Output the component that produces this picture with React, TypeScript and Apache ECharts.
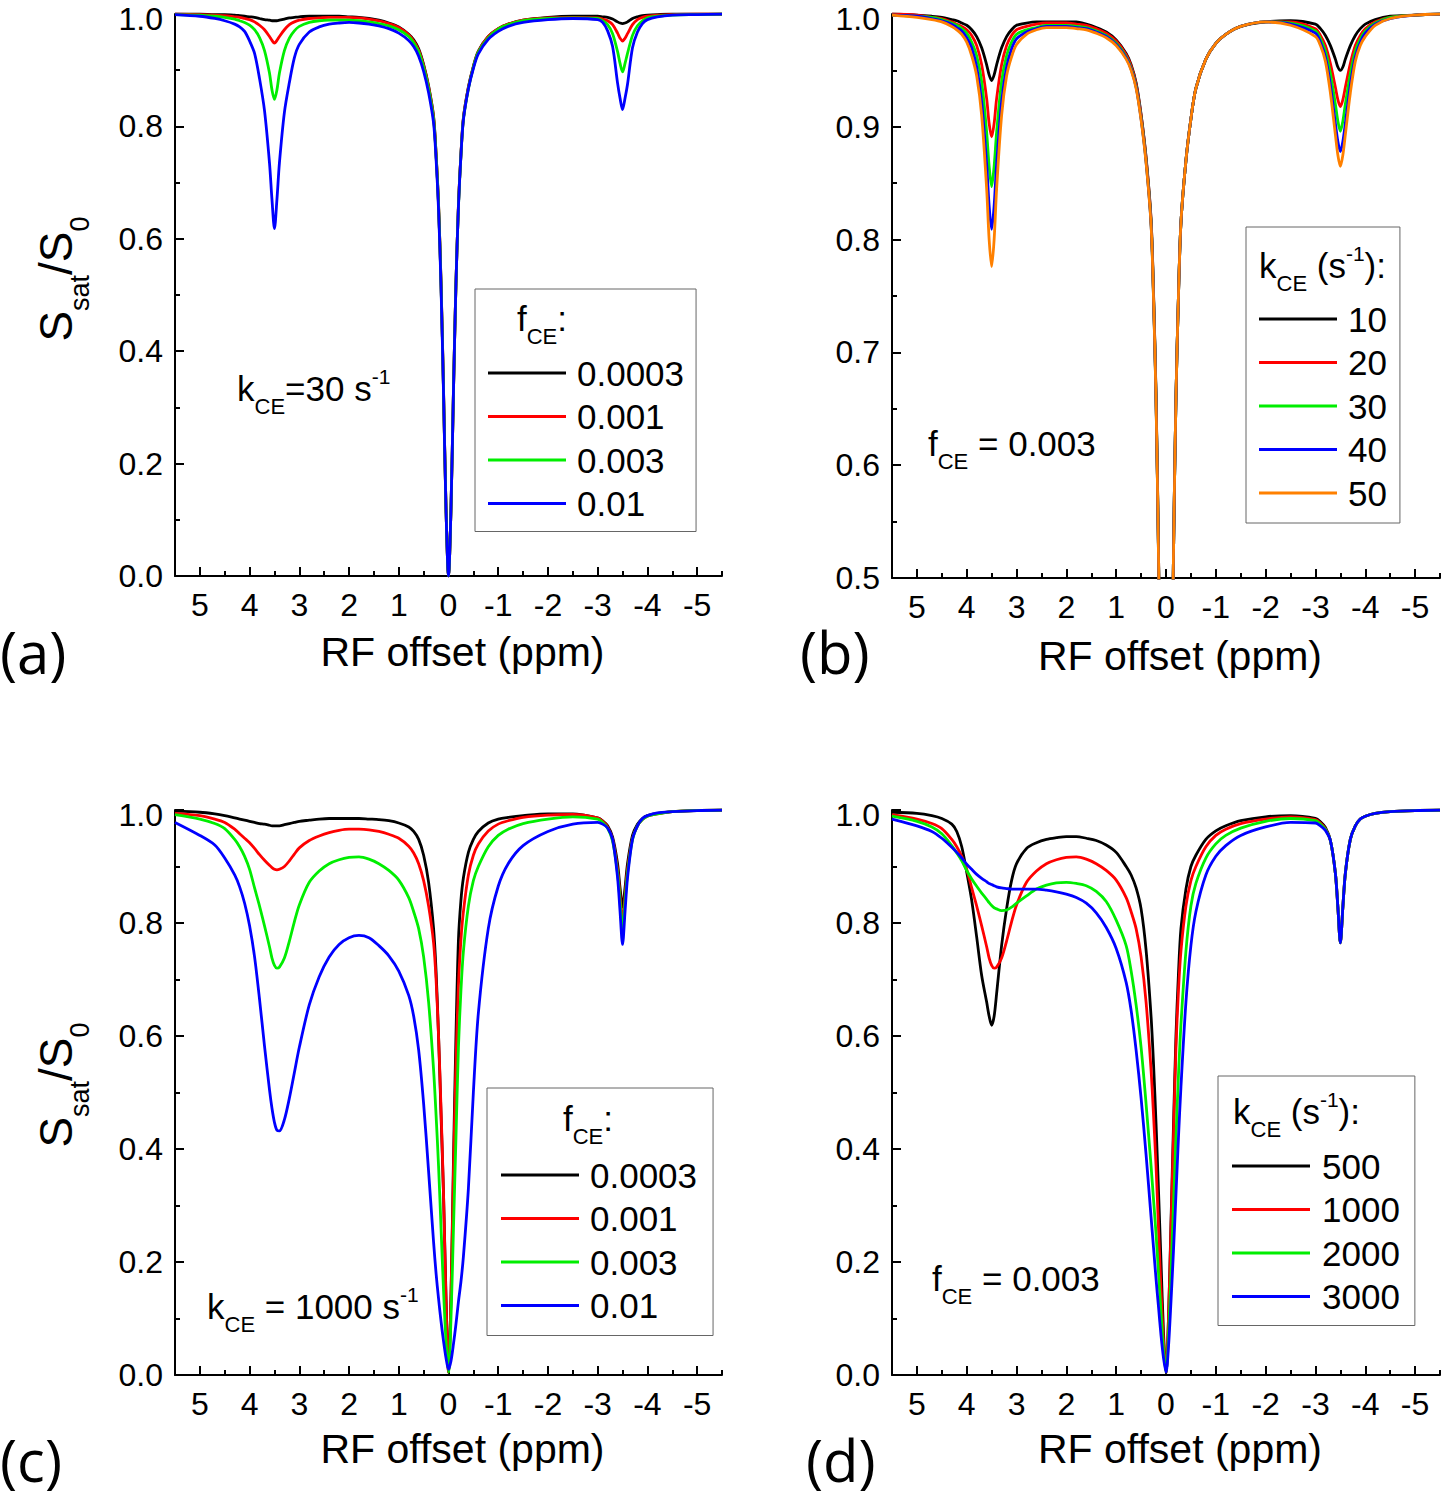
import React, { useEffect, useRef } from "react";
import * as echarts from "echarts";

// RF offset grid (ppm), shared by every curve
const X = [
  5.5, 5.0, 4.7, 4.5, 4.3, 4.2, 4.1, 4.0, 3.9, 3.8,
  3.7, 3.6, 3.55, 3.5, 3.45, 3.4, 3.3, 3.2, 3.1, 3.0,
  2.8, 2.6, 2.4, 2.2, 2.0, 1.8, 1.6, 1.4, 1.2, 1.0,
  0.8, 0.7, 0.6, 0.5, 0.4, 0.3, 0.25, 0.2, 0.15, 0.1,
  0.05, 0, -0.05, -0.1, -0.15, -0.2, -0.25, -0.3, -0.4, -0.5,
  -0.6, -0.8, -1.0, -1.2, -1.5, -2.0, -2.5, -3.0, -3.1, -3.2,
  -3.3, -3.4, -3.45, -3.5, -3.55, -3.6, -3.7, -3.8, -3.9, -4.0,
  -4.2, -4.5, -5.0, -5.5,
];

// (a) kCE = 30 s^-1, varying fCE
const A_F0003 = [
  1.0, 1.0, 0.999, 0.999, 0.998, 0.997, 0.996, 0.995, 0.994, 0.992,
  0.990, 0.989, 0.988, 0.988, 0.988, 0.989, 0.991, 0.993, 0.994, 0.995,
  0.996, 0.996, 0.996, 0.996, 0.995, 0.994, 0.992, 0.989, 0.984, 0.977,
  0.964, 0.954, 0.938, 0.910, 0.872, 0.818, 0.752, 0.662, 0.522, 0.332,
  0.12, 0.0, 0.12, 0.33, 0.52, 0.66, 0.75, 0.815, 0.87, 0.907,
  0.934, 0.96, 0.974, 0.982, 0.989, 0.994, 0.996, 0.996, 0.995, 0.994,
  0.991, 0.986, 0.984, 0.983, 0.984, 0.986, 0.992, 0.995, 0.997, 0.998,
  0.999, 1.0, 1.0, 1.0,
];
const A_F001 = [
  1.0, 0.999, 0.998, 0.997, 0.995, 0.994, 0.992, 0.990, 0.986, 0.980,
  0.972, 0.960, 0.953, 0.948, 0.953, 0.960, 0.972, 0.981, 0.986, 0.989,
  0.992, 0.993, 0.994, 0.994, 0.994, 0.993, 0.991, 0.988, 0.983, 0.976,
  0.963, 0.952, 0.936, 0.908, 0.870, 0.816, 0.750, 0.660, 0.520, 0.330,
  0.12, 0.0, 0.12, 0.33, 0.52, 0.66, 0.75, 0.815, 0.869, 0.906,
  0.933, 0.96, 0.974, 0.982, 0.989, 0.993, 0.994, 0.993, 0.991, 0.988,
  0.981, 0.966, 0.957, 0.952, 0.957, 0.965, 0.981, 0.990, 0.994, 0.996,
  0.998, 0.999, 1.0, 1.0,
];
const A_F003 = [
  0.999, 0.998, 0.996, 0.994, 0.991, 0.988, 0.985, 0.980, 0.972, 0.958,
  0.935, 0.895, 0.865, 0.848, 0.865, 0.895, 0.935, 0.957, 0.970, 0.978,
  0.985, 0.988, 0.989, 0.989, 0.989, 0.988, 0.986, 0.983, 0.979, 0.972,
  0.960, 0.949, 0.933, 0.905, 0.867, 0.813, 0.748, 0.658, 0.518, 0.328,
  0.12, 0.0, 0.12, 0.33, 0.52, 0.658, 0.748, 0.813, 0.867, 0.905,
  0.932, 0.958, 0.973, 0.981, 0.988, 0.992, 0.993, 0.992, 0.988, 0.981,
  0.965, 0.933, 0.912, 0.897, 0.912, 0.930, 0.962, 0.979, 0.988, 0.993,
  0.996, 0.998, 0.999, 1.0,
];
const A_F01 = [
  0.999, 0.996, 0.992, 0.988, 0.982, 0.977, 0.969, 0.952, 0.930, 0.885,
  0.828, 0.735, 0.670, 0.618, 0.670, 0.735, 0.825, 0.878, 0.922, 0.946,
  0.968, 0.977, 0.982, 0.984, 0.985, 0.984, 0.982, 0.979, 0.974, 0.966,
  0.953, 0.942, 0.925, 0.898, 0.860, 0.806, 0.742, 0.652, 0.513, 0.325,
  0.118, 0.0, 0.12, 0.33, 0.52, 0.658, 0.748, 0.812, 0.867, 0.903,
  0.929, 0.955, 0.969, 0.978, 0.985, 0.990, 0.992, 0.990, 0.985, 0.970,
  0.942, 0.877, 0.850, 0.830, 0.850, 0.875, 0.940, 0.968, 0.983, 0.990,
  0.995, 0.998, 0.999, 1.0,
];

// (b) fCE = 0.003, varying kCE
const B_K10 = [
  1.0, 0.999, 0.998, 0.997, 0.995, 0.994, 0.992, 0.990, 0.986, 0.980,
  0.970, 0.955, 0.946, 0.941, 0.946, 0.955, 0.970, 0.980, 0.986, 0.990,
  0.992, 0.993, 0.993, 0.993, 0.993, 0.993, 0.991, 0.988, 0.984, 0.977,
  0.965, 0.955, 0.939, 0.911, 0.873, 0.818, 0.752, 0.662, 0.522, 0.332,
  0.12, 0.0, 0.12, 0.33, 0.52, 0.66, 0.75, 0.815, 0.87, 0.907,
  0.934, 0.96, 0.974, 0.982, 0.989, 0.993, 0.994, 0.991, 0.987, 0.981,
  0.972, 0.960, 0.953, 0.950, 0.953, 0.960, 0.972, 0.981, 0.987, 0.991,
  0.995, 0.998, 0.999, 1.0,
];
const B_K20 = [
  1.0, 0.999, 0.997, 0.996, 0.993, 0.991, 0.989, 0.986, 0.981, 0.972,
  0.955, 0.925, 0.903, 0.891, 0.903, 0.925, 0.955, 0.972, 0.981, 0.986,
  0.989, 0.991, 0.992, 0.992, 0.992, 0.991, 0.990, 0.987, 0.983, 0.976,
  0.964, 0.954, 0.938, 0.910, 0.872, 0.817, 0.751, 0.661, 0.521, 0.331,
  0.12, 0.0, 0.12, 0.33, 0.52, 0.66, 0.75, 0.815, 0.87, 0.907,
  0.934, 0.96, 0.974, 0.982, 0.989, 0.993, 0.993, 0.987, 0.981, 0.972,
  0.956, 0.935, 0.924, 0.918, 0.924, 0.935, 0.956, 0.972, 0.981, 0.987,
  0.993, 0.997, 0.999, 1.0,
];
const B_K30 = [
  0.999, 0.998, 0.997, 0.995, 0.992, 0.990, 0.987, 0.983, 0.975, 0.963,
  0.940, 0.895, 0.865, 0.847, 0.865, 0.895, 0.940, 0.963, 0.975, 0.982,
  0.986, 0.988, 0.990, 0.990, 0.990, 0.989, 0.988, 0.985, 0.981, 0.974,
  0.962, 0.952, 0.936, 0.908, 0.870, 0.815, 0.749, 0.659, 0.519, 0.329,
  0.12, 0.0, 0.12, 0.33, 0.52, 0.66, 0.75, 0.815, 0.87, 0.907,
  0.934, 0.96, 0.974, 0.982, 0.989, 0.993, 0.992, 0.985, 0.978, 0.967,
  0.947, 0.920, 0.905, 0.896, 0.905, 0.920, 0.947, 0.967, 0.978, 0.985,
  0.992, 0.997, 0.999, 1.0,
];
const B_K40 = [
  0.999, 0.998, 0.996, 0.994, 0.991, 0.988, 0.985, 0.979, 0.970, 0.953,
  0.922, 0.867, 0.830, 0.809, 0.830, 0.867, 0.922, 0.953, 0.969, 0.978,
  0.984, 0.987, 0.989, 0.989, 0.989, 0.988, 0.987, 0.984, 0.980, 0.973,
  0.961, 0.951, 0.935, 0.907, 0.869, 0.814, 0.748, 0.658, 0.518, 0.328,
  0.12, 0.0, 0.12, 0.33, 0.52, 0.66, 0.75, 0.815, 0.87, 0.907,
  0.934, 0.96, 0.974, 0.982, 0.989, 0.993, 0.991, 0.983, 0.975, 0.962,
  0.937, 0.903, 0.887, 0.878, 0.887, 0.903, 0.937, 0.962, 0.975, 0.983,
  0.991, 0.996, 0.999, 1.0,
];
const B_K50 = [
  0.999, 0.997, 0.995, 0.993, 0.989, 0.986, 0.982, 0.975, 0.963, 0.945,
  0.910, 0.845, 0.800, 0.776, 0.800, 0.845, 0.910, 0.945, 0.962, 0.973,
  0.982, 0.986, 0.988, 0.988, 0.988, 0.987, 0.986, 0.983, 0.979, 0.972,
  0.960, 0.950, 0.934, 0.906, 0.868, 0.813, 0.747, 0.657, 0.517, 0.327,
  0.12, 0.0, 0.12, 0.33, 0.52, 0.66, 0.75, 0.815, 0.87, 0.907,
  0.934, 0.96, 0.974, 0.982, 0.989, 0.993, 0.990, 0.980, 0.972, 0.958,
  0.930, 0.893, 0.875, 0.865, 0.875, 0.893, 0.930, 0.958, 0.972, 0.980,
  0.990, 0.996, 0.999, 1.0,
];

// (c) kCE = 1000 s^-1, varying fCE
const C_F0003 = [
  0.998, 0.996, 0.993, 0.990, 0.986, 0.984, 0.982, 0.980, 0.978, 0.976,
  0.975, 0.973, 0.972, 0.972, 0.972, 0.972, 0.974, 0.976, 0.978, 0.980,
  0.982, 0.984, 0.985, 0.985, 0.985, 0.985, 0.984, 0.983, 0.981, 0.977,
  0.970, 0.962, 0.948, 0.920, 0.872, 0.790, 0.715, 0.600, 0.460, 0.320,
  0.14, 0.005, 0.14, 0.38, 0.60, 0.77, 0.84, 0.88, 0.925, 0.948,
  0.962, 0.977, 0.984, 0.987, 0.990, 0.993, 0.993, 0.986, 0.981, 0.972,
  0.952, 0.905, 0.862, 0.828, 0.862, 0.905, 0.955, 0.975, 0.985, 0.990,
  0.994, 0.997, 0.999, 1.0,
];
const C_F001 = [
  0.994, 0.990, 0.984, 0.978, 0.966, 0.958, 0.950, 0.942, 0.932, 0.921,
  0.911, 0.902, 0.898, 0.895, 0.894, 0.895, 0.900, 0.910, 0.922, 0.933,
  0.946, 0.954, 0.960, 0.964, 0.966, 0.966, 0.965, 0.962, 0.957, 0.950,
  0.936, 0.924, 0.905, 0.875, 0.830, 0.765, 0.700, 0.600, 0.470, 0.320,
  0.13, 0.005, 0.14, 0.36, 0.55, 0.69, 0.77, 0.82, 0.885, 0.92,
  0.940, 0.963, 0.975, 0.981, 0.987, 0.991, 0.992, 0.986, 0.980, 0.970,
  0.948, 0.895, 0.848, 0.800, 0.848, 0.895, 0.950, 0.972, 0.983, 0.989,
  0.993, 0.997, 0.999, 1.0,
];
const C_F003 = [
  0.992, 0.984, 0.976, 0.967, 0.948, 0.935, 0.918, 0.895, 0.862, 0.830,
  0.795, 0.758, 0.738, 0.725, 0.720, 0.722, 0.738, 0.768, 0.802, 0.832,
  0.872, 0.892, 0.905, 0.912, 0.916, 0.917, 0.913, 0.905, 0.893, 0.876,
  0.845, 0.820, 0.790, 0.740, 0.660, 0.540, 0.460, 0.370, 0.260, 0.150,
  0.060, 0.005, 0.10, 0.26, 0.42, 0.58, 0.68, 0.75, 0.83, 0.875,
  0.900, 0.935, 0.955, 0.966, 0.976, 0.984, 0.988, 0.984, 0.978, 0.968,
  0.945, 0.888, 0.838, 0.785, 0.838, 0.888, 0.948, 0.972, 0.983, 0.989,
  0.993, 0.997, 0.999, 1.0,
];
const C_F01 = [
  0.978, 0.955, 0.938, 0.915, 0.885, 0.864, 0.835, 0.795, 0.740, 0.665,
  0.582, 0.505, 0.472, 0.447, 0.433, 0.432, 0.452, 0.490, 0.535, 0.580,
  0.655, 0.705, 0.740, 0.762, 0.774, 0.778, 0.774, 0.760, 0.742, 0.715,
  0.672, 0.635, 0.575, 0.480, 0.360, 0.235, 0.180, 0.135, 0.095, 0.060,
  0.030, 0.010, 0.025, 0.055, 0.090, 0.130, 0.165, 0.210, 0.330, 0.500,
  0.640, 0.790, 0.865, 0.905, 0.937, 0.962, 0.975, 0.978, 0.975, 0.968,
  0.948, 0.880, 0.820, 0.762, 0.820, 0.880, 0.948, 0.972, 0.985, 0.990,
  0.995, 0.997, 0.999, 1.0,
];

// (d) fCE = 0.003, varying kCE
const D_K500 = [
  0.996, 0.994, 0.990, 0.985, 0.975, 0.962, 0.935, 0.890, 0.840, 0.775,
  0.707, 0.660, 0.635, 0.619, 0.635, 0.675, 0.760, 0.825, 0.875, 0.905,
  0.932, 0.942, 0.948, 0.951, 0.953, 0.953, 0.950, 0.946, 0.938, 0.925,
  0.900, 0.885, 0.862, 0.825, 0.752, 0.635, 0.550, 0.445, 0.325, 0.200,
  0.075, 0.003, 0.100, 0.270, 0.440, 0.600, 0.710, 0.790, 0.860, 0.900,
  0.920, 0.948, 0.963, 0.972, 0.981, 0.988, 0.990, 0.985, 0.979, 0.969,
  0.946, 0.888, 0.828, 0.765, 0.828, 0.888, 0.948, 0.972, 0.984, 0.989,
  0.994, 0.997, 0.999, 1.0,
];
const D_K1000 = [
  0.992, 0.984, 0.976, 0.967, 0.948, 0.935, 0.918, 0.895, 0.862, 0.830,
  0.795, 0.758, 0.738, 0.725, 0.720, 0.722, 0.738, 0.768, 0.802, 0.832,
  0.872, 0.892, 0.905, 0.912, 0.916, 0.917, 0.913, 0.905, 0.893, 0.876,
  0.845, 0.820, 0.790, 0.740, 0.660, 0.540, 0.460, 0.370, 0.260, 0.150,
  0.060, 0.005, 0.10, 0.26, 0.42, 0.58, 0.68, 0.75, 0.83, 0.875,
  0.900, 0.935, 0.955, 0.966, 0.976, 0.984, 0.988, 0.983, 0.977, 0.967,
  0.946, 0.888, 0.828, 0.765, 0.828, 0.888, 0.948, 0.972, 0.984, 0.989,
  0.994, 0.997, 0.999, 1.0,
];
const D_K2000 = [
  0.989, 0.980, 0.970, 0.958, 0.937, 0.924, 0.910, 0.893, 0.878, 0.865,
  0.853, 0.842, 0.836, 0.831, 0.827, 0.825, 0.822, 0.823, 0.828, 0.835,
  0.848, 0.860, 0.867, 0.871, 0.872, 0.870, 0.866, 0.856, 0.838, 0.805,
  0.760, 0.715, 0.655, 0.580, 0.480, 0.370, 0.310, 0.250, 0.180, 0.110,
  0.045, 0.005, 0.070, 0.180, 0.300, 0.420, 0.530, 0.620, 0.750, 0.830,
  0.870, 0.915, 0.940, 0.955, 0.968, 0.980, 0.985, 0.981, 0.975, 0.966,
  0.946, 0.888, 0.828, 0.765, 0.828, 0.888, 0.948, 0.972, 0.984, 0.989,
  0.994, 0.997, 0.999, 1.0,
];
const D_K3000 = [
  0.984, 0.972, 0.962, 0.950, 0.934, 0.925, 0.915, 0.904, 0.895, 0.886,
  0.879, 0.873, 0.870, 0.868, 0.866, 0.864, 0.862, 0.861, 0.860, 0.860,
  0.860, 0.860, 0.858, 0.855, 0.851, 0.845, 0.835, 0.818, 0.792, 0.755,
  0.695, 0.645, 0.575, 0.490, 0.390, 0.280, 0.225, 0.170, 0.120, 0.070,
  0.030, 0.005, 0.050, 0.130, 0.220, 0.320, 0.420, 0.510, 0.660, 0.760,
  0.820, 0.885, 0.918, 0.937, 0.955, 0.970, 0.978, 0.977, 0.972, 0.964,
  0.946, 0.888, 0.828, 0.765, 0.828, 0.888, 0.948, 0.972, 0.984, 0.989,
  0.994, 0.997, 0.999, 1.0,
];

const F_NAMES = ["0.0003", "0.001", "0.003", "0.01"];
const KB_NAMES = ["10", "20", "30", "40", "50"];
const KD_NAMES = ["500", "1000", "2000", "3000"];

const MAJOR_X = [5, 4, 3, 2, 1, 0, -1, -2, -3, -4, -5];
const MINOR_X = [5.5, 4.5, 3.5, 2.5, 1.5, 0.5, -0.5, -1.5, -2.5, -3.5, -4.5, -5.5];

const COLORS = ["#000000", "#ff0000", "#00ee00", "#0000ff", "#ff8000"];
const FONT = "'Liberation Sans', Arial, Helvetica, sans-serif";
const LABEL_FONT = "'Open Sans', sans-serif";

const PANELS = [
  { grid: { left: 175, top: 14, width: 547, height: 562 }, yMin: 0, yMax: 1, yInt: 0.2, nameGap: 55,
    names: F_NAMES, curves: [A_F0003, A_F001, A_F003, A_F01] },
  { grid: { left: 892, top: 14, width: 548, height: 564 }, yMin: 0.5, yMax: 1, yInt: 0.1, nameGap: 57,
    names: KB_NAMES, curves: [B_K10, B_K20, B_K30, B_K40, B_K50] },
  { grid: { left: 175, top: 810, width: 547, height: 565 }, yMin: 0, yMax: 1, yInt: 0.2, nameGap: 53,
    names: F_NAMES, curves: [C_F0003, C_F001, C_F003, C_F01] },
  { grid: { left: 892, top: 810, width: 548, height: 565 }, yMin: 0, yMax: 1, yInt: 0.2, nameGap: 53,
    names: KD_NAMES, curves: [D_K500, D_K1000, D_K2000, D_K3000] },
];

const AX_COLOR = "#000";

function rich(mainSize: number, mainLH: number, subSize: number, subH: number, supSize: number, supH: number) {
  return {
    m: { fontFamily: FONT, fontSize: mainSize, lineHeight: mainLH, fill: "#000" },
    s: { fontFamily: FONT, fontSize: subSize, height: subH, verticalAlign: "bottom", fill: "#000" },
    p: { fontFamily: FONT, fontSize: supSize, height: supH, verticalAlign: "top", fill: "#000" },
  };
}

function richText(x: number, y: number, text: string, r: any, rotation = 0, align = "left") {
  return {
    type: "text",
    x,
    y,
    rotation,
    silent: true,
    style: {
      text,
      rich: r,
      fontFamily: FONT,
      fontSize: 35,
      fill: "#000",
      align,
      verticalAlign: "middle",
    },
  };
}

function plainText(x: number, y: number, text: string, size: number, family: string) {
  return {
    type: "text",
    x,
    y,
    silent: true,
    style: { text, fontFamily: family, fontSize: size, fill: "#000", align: "left", verticalAlign: "middle" },
  };
}

function legendCfg(data: string[], left: number, top: number, padding: number[], padL: number) {
  return {
    show: true,
    orient: "vertical",
    left,
    top,
    padding,
    data,
    icon: "rect",
    itemWidth: 78,
    itemHeight: 3,
    itemGap: 7.5,
    align: "left",
    selectedMode: false,
    borderColor: "#666",
    borderWidth: 1,
    borderRadius: 0,
    backgroundColor: "transparent",
    itemStyle: { borderWidth: 0 },
    textStyle: { fontFamily: FONT, fontSize: 35, lineHeight: 36, color: "#000", padding: [0, 0, 0, padL] },
  };
}

function buildOption() {
  const grid: any[] = [];
  const xAxis: any[] = [];
  const yAxis: any[] = [];
  const series: any[] = [];

  PANELS.forEach((p, i) => {
    grid.push({ ...p.grid, containLabel: false });
    xAxis.push({
      gridIndex: i,
      type: "value",
      min: -5.5,
      max: 5.5,
      inverse: true,
      position: "bottom",
      name: "RF offset (ppm)",
      nameLocation: "middle",
      nameGap: p.nameGap,
      nameTextStyle: { fontFamily: FONT, fontSize: 41, lineHeight: 41, color: "#000", padding: [0, 0, 0, 28] },
      axisLine: { show: true, onZero: false, lineStyle: { color: AX_COLOR, width: 2 } },
      axisTick: { show: true, inside: true, length: 9, customValues: MAJOR_X, lineStyle: { color: AX_COLOR, width: 2 } },
      axisLabel: {
        show: true,
        customValues: MAJOR_X,
        formatter: (v: number) => String(v),
        fontFamily: FONT,
        fontSize: 32,
        lineHeight: 32,
        color: "#000",
        margin: 13,
      },
      splitLine: { show: false },
    });
    xAxis.push({
      gridIndex: i,
      type: "value",
      min: -5.5,
      max: 5.5,
      inverse: true,
      position: "bottom",
      axisLine: { show: false, onZero: false },
      axisTick: { show: true, inside: true, length: 5, customValues: MINOR_X, lineStyle: { color: AX_COLOR, width: 2 } },
      axisLabel: { show: false },
      splitLine: { show: false },
    });
    const yMax = p.yMax;
    yAxis.push({
      gridIndex: i,
      type: "value",
      min: p.yMin,
      max: p.yMax,
      interval: p.yInt,
      position: "left",
      axisLine: { show: true, onZero: false, lineStyle: { color: AX_COLOR, width: 2 } },
      axisTick: { show: true, inside: true, length: 9, lineStyle: { color: AX_COLOR, width: 2 } },
      minorTick: { show: true, splitNumber: 2, length: 5, lineStyle: { color: AX_COLOR, width: 2 } },
      axisLabel: {
        formatter: (v: number) => (Math.abs(v - yMax) < 1e-9 ? "{t|" + v.toFixed(1) + "}" : v.toFixed(1)),
        fontFamily: FONT,
        fontSize: 32,
        color: "#000",
        margin: 12,
        rich: { t: { fontFamily: FONT, fontSize: 32, color: "#000", padding: [9, 0, 0, 0] } },
      },
      splitLine: { show: false },
      minorSplitLine: { show: false },
    });
    p.curves.forEach((ys, k) => {
      series.push({
        type: "line",
        name: p.names[k],
        xAxisIndex: i * 2,
        yAxisIndex: i,
        data: X.map((x, j) => [x, ys[j]]),
        showSymbol: false,
        symbol: "none",
        smooth: 0.3,
        clip: true,
        silent: true,
        color: COLORS[k],
        lineStyle: { color: COLORS[k], width: 2.8 },
        emphasis: { disabled: true },
        z: 2 + k,
      });
    });
  });

  const rInset = rich(35, 48, 22, 12, 21, 24);
  const rTitle = rich(46, 60, 27, 13, 27, 13);

  const graphicEls: any[] = [
    // y-axis titles
    richText(56, 279, "{m|S}{s|sat}{m|/S}{s|0}", rTitle, Math.PI / 2, "center"),
    richText(56, 1085, "{m|S}{s|sat}{m|/S}{s|0}", rTitle, Math.PI / 2, "center"),
    // inset annotations
    richText(237, 388, "{m|k}{s|CE}{m|=30 s}{p|-1}", rInset),
    richText(928, 443, "{m|f}{s|CE}{m| = 0.003}", rInset),
    richText(207, 1306, "{m|k}{s|CE}{m| = 1000 s}{p|-1}", rInset),
    richText(932, 1278, "{m|f}{s|CE}{m| = 0.003}", rInset),
    // legend titles
    richText(517, 318, "{m|f}{s|CE}{m|:}", rInset),
    richText(1259, 265, "{m|k}{s|CE}{m| (s}{p|-1}{m|):}", rInset),
    richText(563, 1118, "{m|f}{s|CE}{m|:}", rInset),
    richText(1233, 1111, "{m|k}{s|CE}{m| (s}{p|-1}{m|):}", rInset),
    // panel labels
    plainText(0, 651, "(a)", 58, LABEL_FONT),
    plainText(800, 651, "(b)", 58, LABEL_FONT),
    plainText(0, 1459, "(c)", 58, LABEL_FONT),
    plainText(806, 1459, "(d)", 58, LABEL_FONT),
  ];

  return {
    animation: false,
    backgroundColor: "#ffffff",
    grid,
    xAxis,
    yAxis,
    series,
    legend: [
      legendCfg(F_NAMES, 475, 289, [66, 12, 10, 13], 6),
      legendCfg(KB_NAMES, 1246, 227, [74, 13, 12, 13], 6),
      legendCfg(F_NAMES, 487, 1088, [69, 16, 12, 14], 6),
      legendCfg(KD_NAMES, 1218, 1076, [72, 15, 11, 14], 7),
    ],
    graphic: { elements: graphicEls },
  };
}

export default function App() {
  const ref = useRef<HTMLDivElement>(null);
  useEffect(() => {
    document.body.style.margin = "0";
    const chart = echarts.init(ref.current as HTMLDivElement, null, { renderer: "svg" });
    chart.setOption(buildOption() as any);
    return () => {
      chart.dispose();
    };
  }, []);
  return <div ref={ref} style={{ width: 1441, height: 1500 }} />;
}
